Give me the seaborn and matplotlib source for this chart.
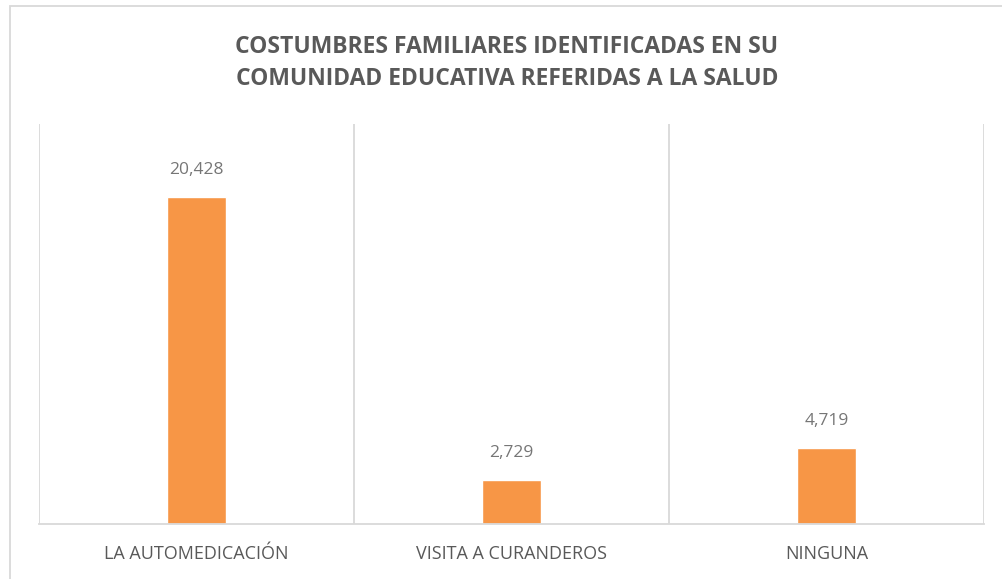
import matplotlib.pyplot as plt
import matplotlib.patches as mpatches
from matplotlib.ticker import FixedLocator
import pandas as pd
import seaborn as sns

# Datos
categorias = ['LA AUTOMEDICACIÓN', 'VISITA A CURANDEROS', 'NINGUNA']
valores = [20.428, 2.729, 4.719]
etiquetas = ['20,428', '2,729', '4,719']
titulo = 'COSTUMBRES FAMILIARES IDENTIFICADAS EN SU\nCOMUNIDAD EDUCATIVA REFERIDAS A LA SALUD'

df = pd.DataFrame({'categoria': categorias, 'valor': valores})

sns.set_theme(style='white')
plt.rcParams['font.family'] = ['Open Sans', 'DejaVu Sans']

fig = plt.figure(figsize=(10.02, 5.79), dpi=100)
ax = fig.add_axes([0.0389, 0.095, 0.943, 0.691])

sns.barplot(data=df, x='categoria', y='valor', color='#F79646', width=0.187,
            saturation=1, ax=ax)

ax.set_ylim(0, 25)
ax.set_xlim(-0.5, 2.5)
ax.set_xlabel('')
ax.set_ylabel('')
ax.set_yticks([])

# lineas verticales entre categorias
ax.xaxis.set_minor_locator(FixedLocator([-0.5, 0.5, 1.5, 2.5]))
ax.grid(True, which='minor', axis='x', color='#d9d9d9', linewidth=1.3)
ax.tick_params(axis='x', which='both', length=0, labelsize=13,
               labelcolor='#595959', pad=15)

for s in ['top', 'right', 'left']:
    ax.spines[s].set_visible(False)
ax.spines['bottom'].set_color('#d9d9d9')
ax.spines['bottom'].set_linewidth(1.3)

for i, (v, t) in enumerate(zip(valores, etiquetas)):
    ax.annotate(t, (i, v), xytext=(0, 14), textcoords='offset points',
                ha='center', va='bottom', fontsize=12.5, color='#767676')

fig.text(0.506, 0.891, titulo, ha='center', va='center', fontsize=16.5,
         fontweight='bold', color='#595959', linespacing=1.45)

# marco del grafico
marco = mpatches.Rectangle((10 / 1002, -0.05), 1.2, 1 - 6 / 579 + 0.05,
                           transform=fig.transFigure, fill=False,
                           edgecolor='#d9d9d9', linewidth=1.3)
fig.patches.append(marco)

fig.savefig('out.png', dpi=100)
